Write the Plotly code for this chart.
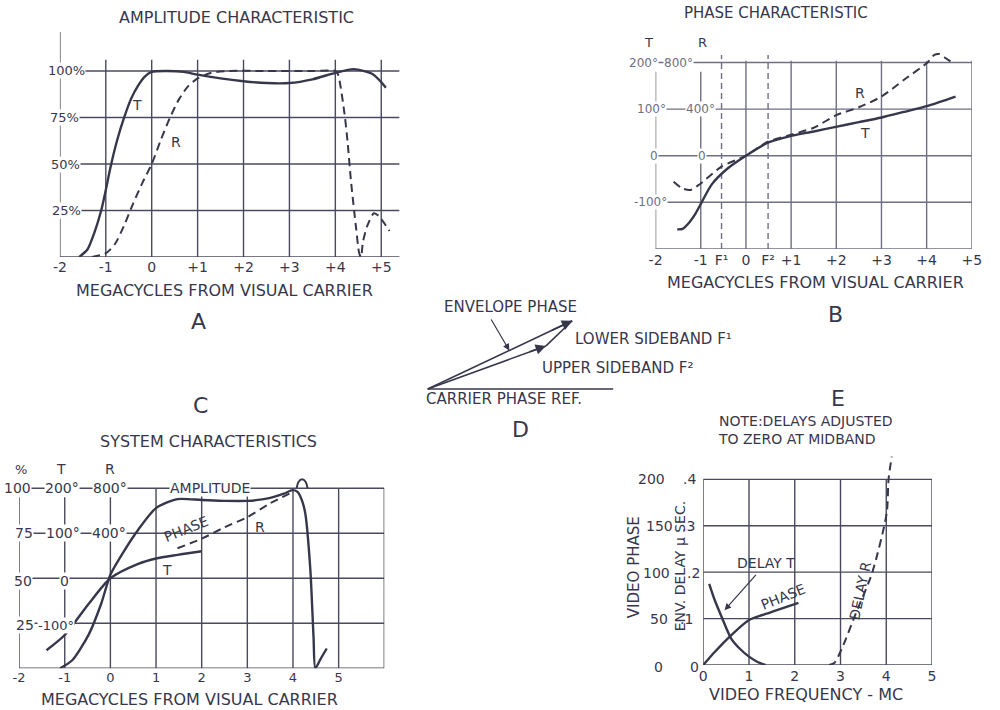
import math
import plotly.graph_objects as go

W, H = 1000, 710
INK = "#37374c"
GRID = "#4a4a5e"
LIGHT = "#6f6f84"
FONT = "DejaVu Sans"

# ---------------- A: amplitude characteristic ----------------
A_freq_ticks = [-2, -1, 0, 1, 2, 3, 4, 5]
A_freq_labels = ["-2", "-1", "0", "+1", "+2", "+3", "+4", "+5"]
A_pct_ticks = [25, 50, 75, 100]
A_pct_labels = ["25%", "50%", "75%", "100%"]
A_T_freq = [-1.58, -1.4, -1.25, -1.1, -1.0, -0.9, -0.75, -0.6, -0.45, -0.3, -0.15, 0.0,
            0.3, 0.7, 1.0, 1.5, 2.0, 2.5, 3.0, 3.5, 4.0, 4.4, 4.8, 5.0, 5.1]
A_T_amp = [0, 4, 13, 25, 36, 48, 63, 75, 85, 92, 97, 99.5,
           100, 99.5, 98, 96, 94.5, 93.5, 93.5, 95.5, 99, 101, 98.5, 94, 91]
A_R_freq = [-1.3, -1.0, -0.8, -0.6, -0.4, -0.2, 0.0, 0.2, 0.4, 0.6, 0.8, 1.0, 1.3, 1.7,
            2.5, 3.5, 4.0, 4.06, 4.2, 4.27, 4.34, 4.45, 4.52, 4.56,
            4.6, 4.7, 4.84, 4.95, 5.07, 5.18]
A_R_amp = [0, 2, 7, 17, 29, 40, 50, 63, 75, 85, 92, 96, 99, 100,
           100, 100, 100, 98, 77, 61, 41, 16, 2, 0,
           8, 17, 23.5, 22, 18, 14]

# ---------------- B: phase characteristic ----------------
B_freq_ticks = [-2, -1, -0.54, 0, 0.49, 1, 2, 3, 4, 5]
B_freq_labels = ["-2", "-1", "F\u00b9", "0", "F\u00b2", "+1", "+2", "+3", "+4", "+5"]
B_sideband_freqs = [-0.54, 0.49]
B_T_deg_ticks = [-200, -100, 0, 100, 200]
B_T_freq = [-1.52, -1.4, -1.25, -1.12, -0.98, -0.76, -0.4, 0.0, 0.485, 0.98, 1.5,
            1.99, 2.5, 3.0, 3.5, 4.02, 4.64]
B_T_phase = [-158, -157, -143, -125, -100, -62, -27, 0, 28, 42, 52,
             62, 72, 82, 94, 107, 127]
B_R_freq = [-1.6, -1.41, -1.23, -1.05, -0.98, -0.54, 0.0, 0.485, 0.98, 1.5, 2.0,
            2.5, 3.0, 3.5, 4.02, 4.17, 4.28, 4.39, 4.57]
B_R_phase = [-223, -280, -294, -252, -232, -94, 0, 120, 178, 240, 348,
             416, 508, 652, 800, 865, 873, 845, 800]

# ---------------- C: system characteristics ----------------
C_freq_ticks = [-2, -1, 0, 1, 2, 3, 4, 5]
C_freq_labels = ["-2", "-1", "0", "1", "2", "3", "4", "5"]
C_pct_ticks = [0, 25, 50, 75, 100]
C_amp_freq = [-1.1, -0.83, -0.47, -0.2, 0.0, 0.32, 0.61, 1.0, 1.47, 2.0, 2.5, 3.0,
              3.48, 3.8, 3.99, 4.1, 4.2, 4.27, 4.38, 4.45, 4.49, 4.6, 4.74]
C_amp_pct = [0, 4.6, 19, 36, 52, 66, 77, 89, 94, 93.5, 93, 93,
             94.5, 97, 99, 98, 93, 86, 55, 17.5, 0, 5, 11]
C_peak_freq = [4.08, 4.12, 4.2, 4.28, 4.32]
C_peak_pct = [100, 103.5, 105, 103.5, 100]
C_T_freq = [-1.4, -1.0, -0.47, 0.0, 0.61, 1.0, 1.47, 2.0]
C_T_phase = [-160, -126, -56, 0, 32, 44, 52, 60]
C_R_freq = [1.47, 2.0, 2.5, 3.0, 3.5, 4.0]
C_R_phase = [267, 352, 453, 544, 667, 768]

# ---------------- D: phasor diagram ----------------
D_carrier_ref_len = 188.7
D_envelope = (162.0, 24.9)      # length, angle in degrees
D_upper_sideband = (127.8, 19.7)

# ---------------- E: video phase and envelope delay ----------------
E_freq_ticks = [0, 1, 2, 3, 4, 5]
E_freq_labels = ["0", "1", "2", "3", "4", "5"]
E_delay_ticks = [0.1, 0.2, 0.3, 0.4]
E_delayT_freq = [0.13, 0.25, 0.40, 0.61, 0.8, 1.0, 1.2, 1.36]
E_delayT_us = [0.175, 0.14, 0.104, 0.057, 0.035, 0.018, 0.006, 0.0]
E_phase_freq = [0.0, 0.25, 0.54, 1.0, 1.3, 1.61, 2.08]
E_phase_deg = [0, 14, 28.8, 48.5, 54, 59, 67]
E_delayR_freq = [2.75, 2.87, 3.05, 3.33, 3.69, 4.01, 4.05, 4.12]
E_delayR_us = [0.0, 0.005, 0.04, 0.11, 0.198, 0.327, 0.4, 0.449]


def xdom(a, b):
    return [a / W, b / W]


def ydom(bottom, top):
    return [1 - bottom / H, 1 - top / H]


def hidden(**kw):
    d = dict(showgrid=False, zeroline=False, showline=False, ticks="",
             showticklabels=False, fixedrange=True)
    d.update(kw)
    return d


def xticks(vals, labels, standoff, size=14):
    return dict(showticklabels=True, tickvals=vals, ticktext=labels,
                tickfont=dict(family=FONT, size=size, color=INK),
                ticklabelstandoff=standoff)


fig = go.Figure()


def curve(x, y, xa, ya, dashed=False, width=2.4):
    fig.add_trace(go.Scatter(
        x=x, y=y, xaxis=xa, yaxis=ya, mode="lines", showlegend=False,
        hoverinfo="skip", cliponaxis=False,
        line=dict(color=INK, width=width, shape="spline", smoothing=0.7,
                  dash="8px,5px" if dashed else "solid")))


shapes = []
annotations = []


def seg(xr, yr, x0, x1, y0, y1, color=GRID, width=1.4, dash="solid"):
    shapes.append(dict(type="line", xref=xr, yref=yr, x0=x0, x1=x1, y0=y0, y1=y1,
                       layer="below", line=dict(color=color, width=width, dash=dash)))


def text(px, py, s, size=15, color=INK, angle=0, bg=None, xanchor="center", align="center"):
    a = dict(x=px / W, y=1 - py / H, xref="paper", yref="paper", text=s,
             showarrow=False, textangle=angle, xanchor=xanchor, yanchor="middle",
             align=align, font=dict(family=FONT, size=size, color=color), borderpad=0)
    if bg:
        a["bgcolor"] = bg
    annotations.append(a)


# ---- A ----
curve(A_T_freq, A_T_amp, "x", "y")
curve(A_R_freq, A_R_amp, "x", "y", dashed=True, width=2.0)
for p in [0] + A_pct_ticks:
    seg("x", "y", -2, 5.4, p, p)
for f in A_freq_ticks[1:]:
    seg("x", "y", f, f, 0, 106)
seg("x", "y", -2, -2, 0, 121)
for p, lab, cx in zip(A_pct_ticks, A_pct_labels, [61, 59.5, 59, 61]):
    text(cx, 257 - 1.86 * p, lab, size=13, bg="white")
text(233, 18, "AMPLITUDE CHARACTERISTIC", size=16)
text(132, 105, "T", size=14)
text(172, 142, "R", size=14)
text(221, 290, "MEGACYCLES FROM VISUAL CARRIER", size=16)
text(195, 321, "A", size=22)

# ---- B ----
curve(B_T_freq, B_T_phase, "x2", "y2")
curve(B_R_freq, B_R_phase, "x2", "y3", dashed=True, width=2.0)
for d in B_T_deg_ticks:
    seg("x2", "y2", -2, 5, d, d, color=LIGHT)
for f in A_freq_ticks:
    top = 180 if f in (-2, -1) else 204
    seg("x2", "y2", f, f, -200, top, color=LIGHT)
for f in B_sideband_freqs:
    seg("x2", "y2", f, f, -200, 216, color=LIGHT, dash="6px,4px")
text(653, 42, "T", size=13)
text(708, 42, "R", size=13)
text(648, 62.7, "200°", size=12, color=LIGHT, bg="white")
text(683, 62.7, "800°", size=12, color=LIGHT, bg="white")
text(656, 108.7, "100°", size=12, color=LIGHT, bg="white")
text(706, 108.7, "400°", size=12, color=LIGHT, bg="white")
text(658, 155.7, "0", size=12, color=LIGHT, bg="white")
text(707, 155.7, "0", size=12, color=LIGHT, bg="white")
text(655, 202.3, "-100°", size=12, color=LIGHT, bg="white")
text(782, 13, "PHASE CHARACTERISTIC", size=15)
text(873, 133, "T", size=14)
text(868, 93, "R", size=14)
text(822, 282, "MEGACYCLES FROM VISUAL CARRIER", size=16)
text(843, 314, "B", size=22)

# ---- C ----
curve(C_amp_freq, C_amp_pct, "x3", "y4")
curve(C_peak_freq, C_peak_pct, "x3", "y4", width=2.0)
curve(C_T_freq, C_T_phase, "x3", "y5")
curve(C_R_freq, C_R_phase, "x3", "y6", dashed=True, width=2.0)
for p in C_pct_ticks:
    seg("x3", "y4", -2, 6, p, p)
for f in [1, 2, 3, 4, 5, 6]:
    seg("x3", "y4", f, f, 0, 100)
for f in [-2, -1, 0]:
    seg("x3", "y4", f, f, 0, 95)
c_rows = {100: 488.3, 75: 533.3, 50: 581.0, 25: 625.0}
text(14, 469, "%", size=13)
text(55, 469, "T", size=14)
text(105, 469, "R", size=14)
text(11, c_rows[100], "100", size=14, bg="white")
text(56, c_rows[100], "200°", size=14, bg="white")
text(105, c_rows[100], "800°", size=14, bg="white")
text(17, c_rows[75], "75", size=14, bg="white")
text(57, c_rows[75], "100°", size=14, bg="white")
text(104, c_rows[75], "400°", size=14, bg="white")
text(16, c_rows[50], "50", size=14, bg="white")
text(58, c_rows[50], "0", size=14, bg="white")
text(18, c_rows[25], "25", size=14, bg="white")
text(50, c_rows[25], "-100°", size=13, bg="white")
text(207, 488.3, "AMPLITUDE", size=14, bg="white")
text(182, 529, "PHASE", size=14, angle=-22)
text(257, 527, "R", size=14)
text(163, 570, "T", size=14)
text(205, 442, "SYSTEM CHARACTERISTICS", size=16)
text(186, 699, "MEGACYCLES FROM VISUAL CARRIER", size=16)
text(197, 405, "C", size=22)

# ---- D ----
env_tip = (D_envelope[0] * math.cos(math.radians(D_envelope[1])),
           D_envelope[0] * math.sin(math.radians(D_envelope[1])))
up_tip = (D_upper_sideband[0] * math.cos(math.radians(D_upper_sideband[1])),
          D_upper_sideband[0] * math.sin(math.radians(D_upper_sideband[1])))
fig.add_trace(go.Scatter(x=[0, D_carrier_ref_len], y=[0, 0], xaxis="x5", yaxis="y9",
                         mode="lines", showlegend=False, hoverinfo="skip",
                         line=dict(color=INK, width=1.6)))
for tail, tip in [((0, 0), env_tip), ((0, 0), up_tip), (up_tip, env_tip)]:
    fig.add_trace(go.Scatter(x=[tail[0], tip[0]], y=[tail[1], tip[1]], xaxis="x5",
                             yaxis="y9", mode="lines", showlegend=False,
                             hoverinfo="skip", line=dict(color=INK, width=1.6)))
for tip, frac in [(env_tip, 0.85), (up_tip, 0.85)]:
    annotations.append(dict(x=tip[0], y=tip[1], ax=tip[0] * frac, ay=tip[1] * frac,
                            xref="x5", yref="y9", axref="x5", ayref="y9", text="",
                            showarrow=True, arrowhead=2, arrowsize=1.3,
                            arrowwidth=1.6, arrowcolor=INK))
env_pointer = env_tip[0] * 0.565
annotations.append(dict(x=env_pointer, y=env_pointer * math.tan(math.radians(D_envelope[1])),
                        ax=63.7, ay=71, xref="x5", yref="y9", axref="x5", ayref="y9",
                        text="", showarrow=True, arrowhead=2, arrowsize=1.1,
                        arrowwidth=1.2, arrowcolor=INK))
text(512, 307, "ENVELOPE PHASE", size=15)
text(577, 339, "LOWER SIDEBAND F\u00b9", size=15, xanchor="left")
text(543, 368, "UPPER SIDEBAND F\u00b2", size=15, xanchor="left")
text(425, 399, "CARRIER PHASE REF.", size=15, xanchor="left")
text(522, 429, "D", size=22)

# ---- E ----
curve(E_delayT_freq, E_delayT_us, "x4", "y7")
curve(E_phase_freq, E_phase_deg, "x4", "y8")
curve(E_delayR_freq, E_delayR_us, "x4", "y7", dashed=True, width=2.0)
for d in [0] + E_delay_ticks:
    seg("x4", "y7", 0, 5, d, d)
for f in E_freq_ticks:
    seg("x4", "y7", f, f, 0, 0.4)
for d in E_delay_ticks:
    seg("x4", "y7", -0.75, -0.5, d, d, width=1.2)
e_rows = {0.4: 479.3, 0.3: 526.0, 0.2: 572.7, 0.1: 619.3, 0.0: 665.0}
text(656, e_rows[0.4], "200", size=14)
text(664, e_rows[0.3], "150", size=14)
text(661, e_rows[0.2], "100", size=14)
text(663, e_rows[0.1], "50", size=14)
text(663, 667, "0", size=14)
text(694, e_rows[0.4], ".4", size=14)
text(693, e_rows[0.3], ".3", size=14)
text(698, e_rows[0.2], ".2", size=14)
text(691, e_rows[0.1], ".1", size=14)
text(699, 667, "0", size=14)
text(638, 567, "VIDEO PHASE", size=15, angle=-90)
text(685, 566, "ENV. DELAY \u00b5 SEC.", size=14, angle=-90)
text(845, 398, "E", size=22)
text(722, 430, "NOTE:DELAYS ADJUSTED<br>TO ZERO AT MIDBAND", size=14,
     xanchor="left", align="left")
text(772, 563, "DELAY T", size=14)
text(789, 597, "PHASE", size=14, angle=-22)
text(868, 591, "DELAY R", size=14, angle=-78)
text(813, 694, "VIDEO FREQUENCY - MC", size=16)
annotations.append(dict(x=0.466, y=0.118, ax=1.18, ay=0.1975, xref="x4", yref="y7",
                        axref="x4", ayref="y7", text="", showarrow=True, arrowhead=2,
                        arrowsize=1.1, arrowwidth=1.2, arrowcolor=INK))

fig.update_layout(
    width=W, height=H, margin=dict(l=0, r=0, t=0, b=0),
    paper_bgcolor="white", plot_bgcolor="rgba(0,0,0,0)",
    showlegend=False, shapes=shapes, annotations=annotations,
    xaxis=hidden(domain=xdom(53.8, 399.4), range=[-2, 5.4], anchor="y",
                 **xticks(A_freq_ticks, A_freq_labels, 0)),
    yaxis=hidden(domain=ydom(257, 31.9), range=[0, 121], anchor="x"),
    xaxis2=hidden(domain=xdom(659.8, 981.5), range=[-2, 5], anchor="y2",
                  **xticks(B_freq_ticks, B_freq_labels, 1)),
    yaxis2=hidden(domain=ydom(248.9, 47.6), range=[-200, 232], anchor="x2"),
    yaxis3=hidden(range=[-800, 928], anchor="x2", overlaying="y2"),
    xaxis3=hidden(domain=xdom(12.3, 383.8), range=[-2, 6], anchor="y4",
                  **xticks(C_freq_ticks, C_freq_labels, 0, size=13)),
    yaxis4=hidden(domain=ydom(668.3, 477.5), range=[0, 106], anchor="x3"),
    yaxis5=hidden(range=[-200, 224], anchor="x3", overlaying="y4"),
    yaxis6=hidden(range=[-800, 896], anchor="x3", overlaying="y4"),
    xaxis4=hidden(domain=xdom(708.3, 941), range=[0, 5], anchor="y7",
                  **xticks(E_freq_ticks, E_freq_labels, 1)),
    yaxis7=hidden(domain=ydom(665, 453.8), range=[0, 0.455], anchor="x4"),
    yaxis8=hidden(range=[0, 227.5], anchor="x4", overlaying="y7"),
    xaxis5=hidden(domain=xdom(400, 720), range=[-28, 292], anchor="y9"),
    yaxis9=hidden(domain=ydom(430, 290), range=[-41, 99], anchor="x5"),
)

fig.write_html("out.html")
